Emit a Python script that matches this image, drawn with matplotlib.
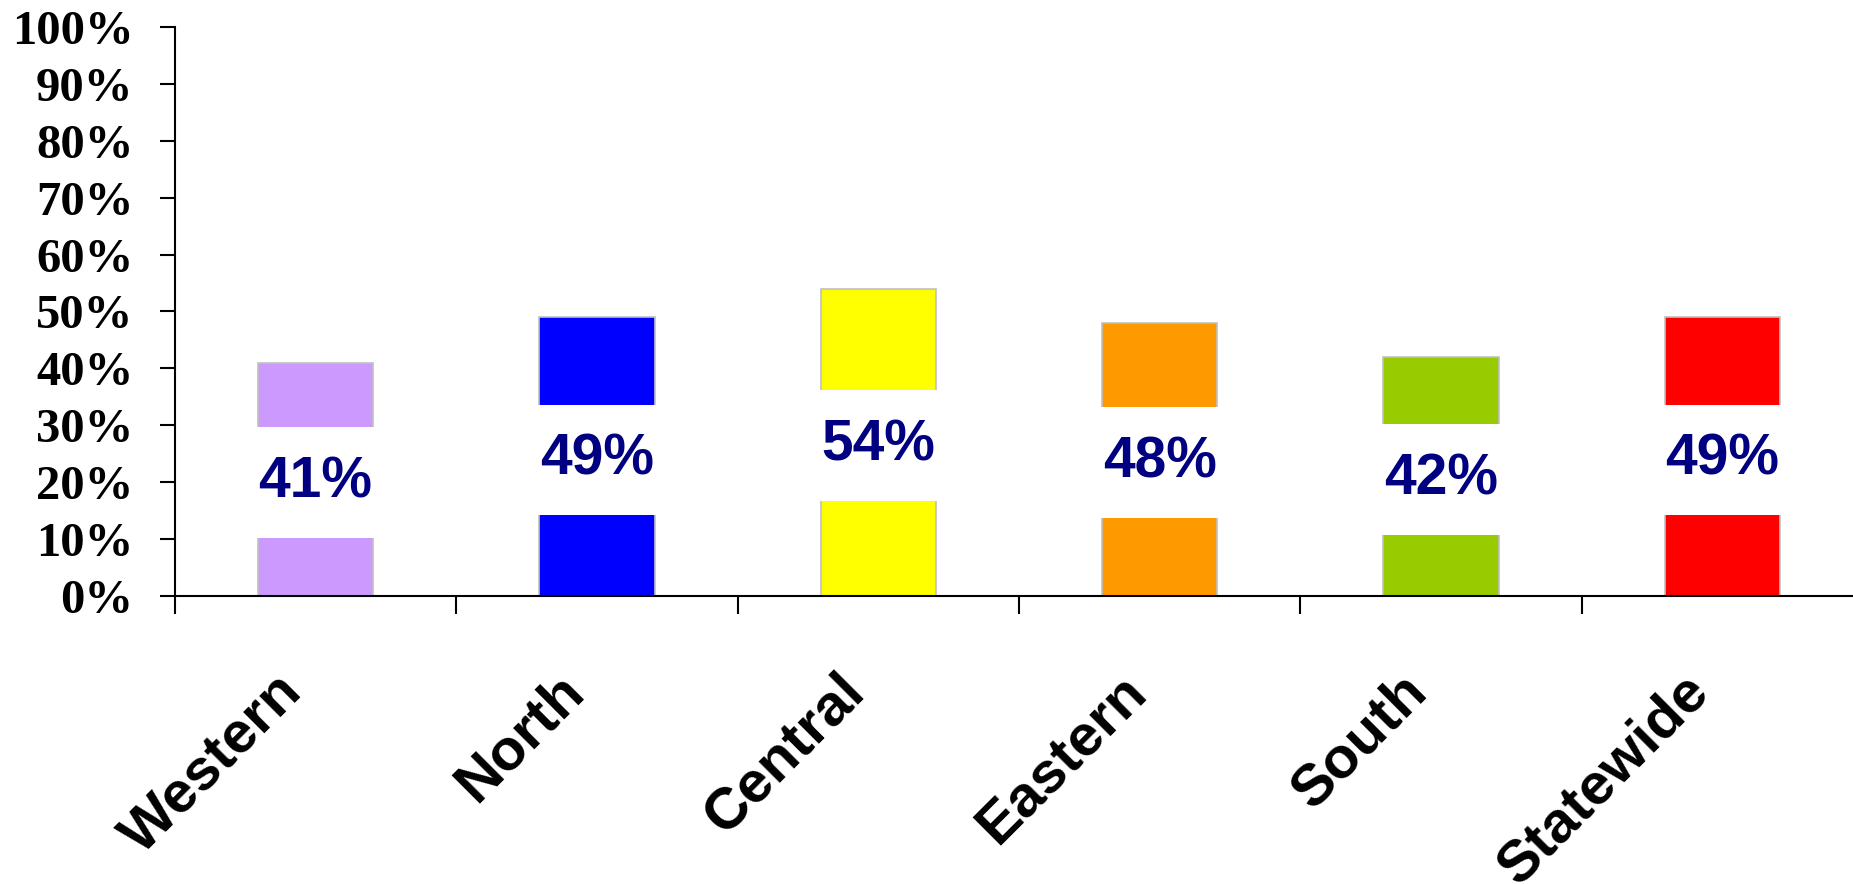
import numpy as np
import matplotlib.pyplot as plt

# Share of respondents by region
regions = ['Western', 'North', 'Central', 'Eastern', 'South', 'Statewide']
values = [41, 49, 54, 48, 42, 49]
bar_colors = ['#CC99FF', '#0000FF', '#FFFF00', '#FF9900', '#99CC00', '#FF0000']
y_ticks = list(range(0, 101, 10))

fig = plt.figure(figsize=(18.53, 8.84), dpi=100)
ax = fig.add_axes([0.0944, 0.3258, 0.9110, 0.6437])

x = np.arange(len(regions))
ax.bar(x, values, width=0.41, color=bar_colors, edgecolor='#C0C0C0', linewidth=1.2, zorder=2)

# value labels sit in the middle of each bar on a white box
for xi, v in zip(x, values):
    ax.text(xi, v / 2 - 0.6, f'{v}%', ha='center', va='center',
            fontsize=41, fontweight='bold', color='#000080', family='Liberation Sans',
            bbox=dict(boxstyle='square,pad=0.5', facecolor='white', edgecolor='none'),
            zorder=3)

ax.set_xlim(-0.5, len(regions) - 0.5)
ax.set_ylim(0, 100)

ax.set_yticks(y_ticks)
ax.set_yticklabels([f'{t}%' for t in y_ticks], fontsize=35, fontweight='bold',
                   family='Liberation Serif')
ax.tick_params(axis='y', direction='out', length=11, width=1.5, pad=19)

ax.set_xticks(np.arange(-0.5, len(regions), 1.0))
ax.set_xticklabels([])
ax.tick_params(axis='x', direction='out', length=13, width=1.5)

for xi, name in zip(x, regions):
    ax.annotate(name, xy=(xi, 0), xytext=(-3, -68), textcoords='offset pixels',
                rotation=45, ha='right', va='top', fontsize=42, fontweight='bold',
                family='Liberation Sans', annotation_clip=False)

for side in ['top', 'right']:
    ax.spines[side].set_visible(False)
for side in ['left', 'bottom']:
    ax.spines[side].set_linewidth(1.5)

fig.savefig('out.png', dpi=100)
